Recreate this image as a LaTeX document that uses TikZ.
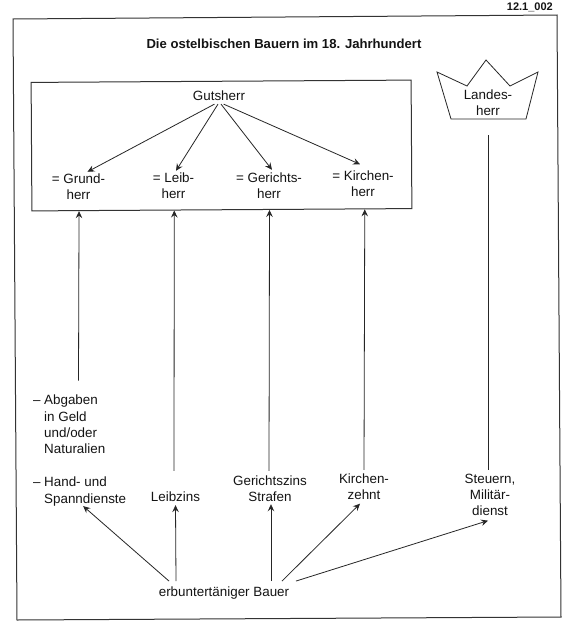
\documentclass[tikz,border=0pt]{standalone}
\usepackage{fontspec}
\setmainfont{Liberation Sans}
\usetikzlibrary{arrows.meta,calc}
\tikzset{
  lbl/.style={inner sep=0pt,align=center,font=\fontsize{13.4}{16.2}\selectfont,text=black!92},
  lbll/.style={lbl,align=left,anchor=north west},
  ln/.style={draw=black!85,line width=0.8pt},
  arr/.style={ln,-{Stealth[length=7pt,width=6.5pt,inset=2.5pt]}},
  frm/.style={draw=black!80,line width=1pt,fill=white}
}
\begin{document}
\begin{tikzpicture}[x=1pt,y=-1pt]
\useasboundingbox (0,0) rectangle (570,643);
\fill[white] (0,0) rectangle (570,643);
\draw[frm] (13,19) -- (557,15) -- (561,617) -- (17,620) -- cycle;
\node[lbl,anchor=east,font=\fontsize{11}{12}\selectfont\bfseries] (code) at (553,7) {12.1\_002};
\node[lbl,font=\fontsize{13.1}{15}\selectfont\bfseries] (title) at (284,44) {Die ostelbischen Bauern im 18. Jahrhundert};
\node[frm,rotate=0.35,minimum width=380pt,minimum height=128.5pt,inner sep=0pt] (box) at (221.5,145.5) {};
\node[lbl] (gut) at (219,96) {Gutsherr};
\node[lbl] (grund) at (78.5,186.5) {= Grund-\\herr};
\node[lbl] (leib) at (173.5,186) {= Leib-\\herr};
\node[lbl] (ger) at (269,185.5) {= Gerichts-\\herr};
\node[lbl] (kir) at (363,184) {= Kirchen-\\herr};
\draw[arr] ([xshift=-4.5pt,yshift=-3pt]gut.south) -- ([xshift=9pt,yshift=1.5pt]grund.north);
\draw[arr] ([xshift=-1pt,yshift=-3pt]gut.south) -- ([xshift=2.5pt,yshift=2pt]leib.north);
\draw[arr] ([xshift=2pt,yshift=-3pt]gut.south) -- ([xshift=3pt,yshift=2.5pt]ger.north);
\draw[arr] ([xshift=4.6pt,yshift=-3pt]gut.south) -- ([xshift=-3pt,yshift=6.5pt]kir.north);
\draw[ln] (437,72) -- (467,86) -- (486,60) -- (510,86) -- (538,72) -- (526,119) -- (451,119) -- cycle;
\node[lbl] (landes) at (488,103) {Landes-\\herr};
\node[lbll] (abg) at (44,395) {\leavevmode\llap{– }Abgaben\\in Geld\\und/oder\\Naturalien};
\node[lbll] (hand) at (44,477) {\leavevmode\llap{– }Hand- und\\Spanndienste};
\node[lbl] (lz) at (175.5,497) {Leibzins};
\node[lbl] (gz) at (270,488.5) {Gerichtszins\\Strafen};
\node[lbl] (kz) at (364,487) {Kirchen-\\zehnt};
\node[lbl] (st) at (490,495) {Steuern,\\Militär-\\dienst};
\node[lbl] (bauer) at (224,593.5) {erbuntertäniger Bauer};
\draw[arr] (abg.north -| grund) ++(0,-14.5) -- ($(box.south west)!0.125!(box.south east)$);
\draw[arr] (lz.north) ++(-1.5,-21) -- ($(box.south west)!0.375!(box.south east)$);
\draw[arr] (gz.north) ++(-1,-4.5) -- ($(box.south west)!0.625!(box.south east)$);
\draw[arr] (kz.north) ++(0,-4) -- ($(box.south west)!0.875!(box.south east)$);
\draw[ln] (st.north) ++(-2,-4) -- (488,135);
\draw[arr] ([xshift=-55pt,yshift=6pt]bauer.north) -- ([xshift=-2pt,yshift=0pt]hand.south);
\draw[arr] ([xshift=-48pt,yshift=6pt]bauer.north) -- ([yshift=-3pt]lz.south);
\draw[arr] ([xshift=47pt,yshift=6pt]bauer.north) -- ([xshift=1pt,yshift=-2.5pt]gz.south);
\draw[arr] ([xshift=58pt,yshift=6pt]bauer.north) -- ([xshift=-4pt,yshift=-3.5pt]kz.south);
\draw[arr] ([xshift=72pt,yshift=6pt]bauer.north) -- ([xshift=-2pt,yshift=-4.5pt]st.south);
\end{tikzpicture}
\end{document}
